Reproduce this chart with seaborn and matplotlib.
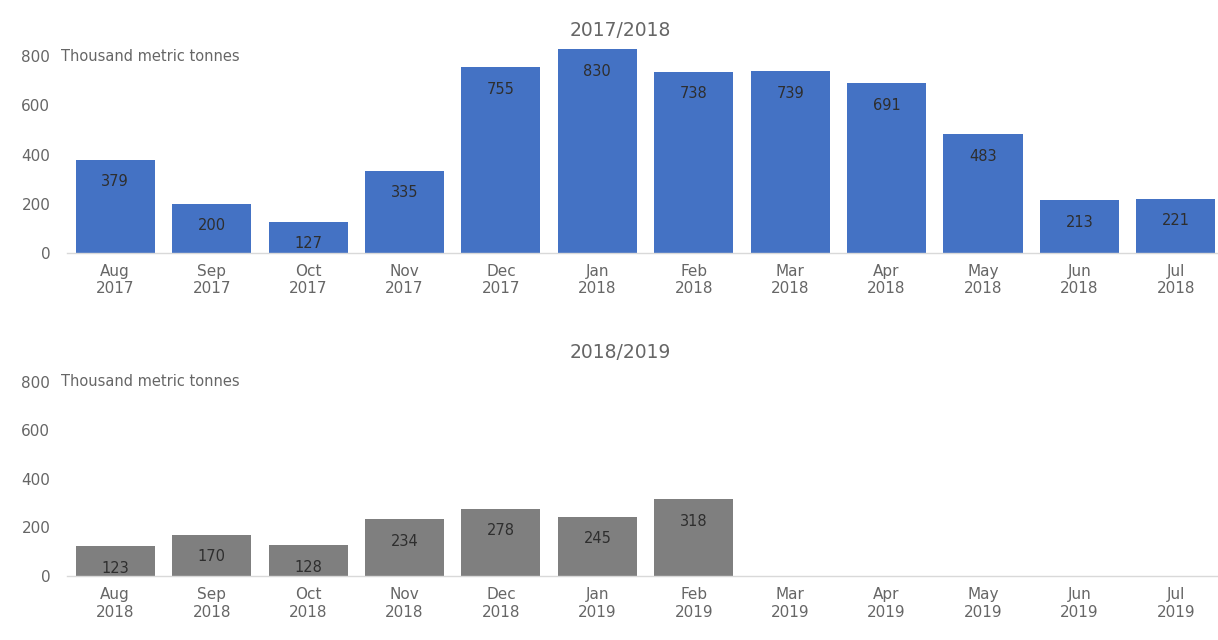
import matplotlib
matplotlib.use("Agg")
import matplotlib.pyplot as plt
import matplotlib.transforms as mtransforms
import seaborn as sns
import pandas as pd

months_1 = ["Aug\n2017", "Sep\n2017", "Oct\n2017", "Nov\n2017", "Dec\n2017", "Jan\n2018",
            "Feb\n2018", "Mar\n2018", "Apr\n2018", "May\n2018", "Jun\n2018", "Jul\n2018"]
values_1 = [379, 200, 127, 335, 755, 830, 738, 739, 691, 483, 213, 221]

months_2 = ["Aug\n2018", "Sep\n2018", "Oct\n2018", "Nov\n2018", "Dec\n2018", "Jan\n2019",
            "Feb\n2019", "Mar\n2019", "Apr\n2019", "May\n2019", "Jun\n2019", "Jul\n2019"]
values_2 = [123, 170, 128, 234, 278, 245, 318]

titles = ["2017/2018", "2018/2019"]
unit_label = "Thousand metric tonnes"
yticks = [0, 200, 400, 600, 800]

sns.set_theme(style="white")
plt.rcParams['font.family'] = ['DejaVu Sans']

fig = plt.figure(figsize=(12.18, 6.4), dpi=100)
ax1 = fig.add_axes([0.055, 0.605, 0.95, 0.33])
ax2 = fig.add_axes([0.055, 0.100, 0.95, 0.326])

tick_col = "#666666"

def draw(ax, months, values, color, title, title_y):
    df = pd.DataFrame({"month": months[:len(values)], "value": values})
    sns.barplot(data=df, x="month", y="value", order=months, color=color,
                saturation=1, width=0.82, linewidth=0, ax=ax)
    ax.set_ylim(0, 860)
    ax.set_xlim(-0.5, len(months) - 0.5)
    ax.set_yticks(yticks)
    ax.set_xlabel("")
    ax.set_ylabel("")
    for s in ["top", "right", "left"]:
        ax.spines[s].set_visible(False)
    ax.spines["bottom"].set_color("#D9D9D9")
    ax.spines["bottom"].set_linewidth(1.0)
    ax.tick_params(axis="both", length=0, colors=tick_col, labelsize=11)
    ax.tick_params(axis="y", pad=12)
    ax.tick_params(axis="x", pad=8)
    for p, v in zip(ax.patches, values):
        ax.annotate(str(v), (p.get_x() + p.get_width() / 2, p.get_height()),
                    xytext=(0, -16), textcoords="offset points",
                    ha="center", va="center", fontsize=10.5, color="#2E2E2E")
    trans = mtransforms.blended_transform_factory(ax.transAxes, ax.transData)
    ax.text(-0.005, 800, unit_label, transform=trans, ha="left", va="center",
            fontsize=10.5, color=tick_col)
    fig.text(0.509, title_y, title, ha="center", va="center", fontsize=13.5, color=tick_col)

draw(ax1, months_1, values_1, "#4472C4", titles[0], 0.953)
draw(ax2, months_2, values_2, "#7F7F7F", titles[1], 0.45)

fig.savefig("out.png", dpi=100)
